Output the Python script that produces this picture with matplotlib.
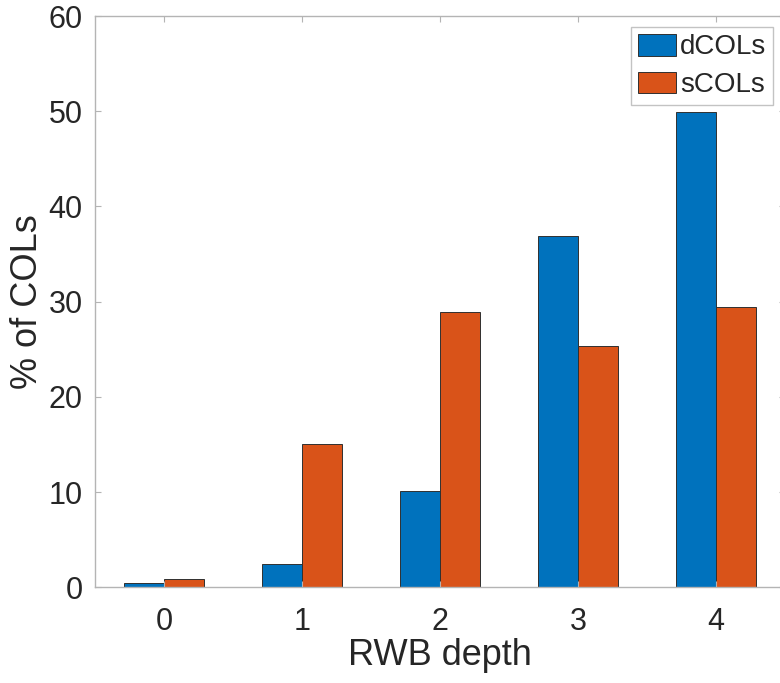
import matplotlib
matplotlib.use("Agg")
import matplotlib.pyplot as plt
import numpy as np

plt.rcParams['font.family'] = ['Liberation Sans', 'DejaVu Sans']

categories = [0, 1, 2, 3, 4]
dcols = [0.4, 2.4, 10.1, 36.9, 49.9]
scols = [0.9, 15.0, 28.9, 25.3, 29.4]
series_names = ["dCOLs", "sCOLs"]
yticks = [0, 10, 20, 30, 40, 50, 60]

blue = "#0072BD"
orange = "#D95319"
grey = "#b4b4b4"
txt = "#262626"

fig = plt.figure(figsize=(7.8, 6.83), dpi=100)
ax = fig.add_axes([95/780, 1 - 587.3/683, 690/780, (587.3 - 16)/683])

x = np.array(categories, dtype=float)
w = 0.29
ax.bar(x - w/2, dcols, width=w, color=blue, edgecolor="#303030", linewidth=0.7, label=series_names[0])
ax.bar(x + w/2, scols, width=w, color=orange, edgecolor="#303030", linewidth=0.7, label=series_names[1])

ax.set_xlim(-0.5, 4.5)
ax.set_ylim(0, 60)
ax.set_xticks(categories)
ax.set_yticks(yticks)
for s in ax.spines.values():
    s.set_color(grey)
    s.set_linewidth(1.0)
ax.tick_params(axis='both', direction='in', length=4, width=0.8, color=grey,
               labelcolor=txt, labelsize=22, top=True, right=True)
ax.tick_params(axis='x', pad=14)
ax.tick_params(axis='y', pad=9)

ax.set_xlabel("RWB depth", fontsize=26, color=txt, va='top')
ax.set_ylabel("% of COLs", fontsize=26, color=txt)
ax.xaxis.set_label_coords(0.5, -0.089)
ax.yaxis.set_label_coords(-0.072, 0.5)

leg = ax.legend(loc='upper right', bbox_to_anchor=((773 - 95)/690, (587.3 - 27)/571.3),
                fontsize=20, frameon=True, fancybox=False, borderpad=0.25,
                handlelength=1.37, handleheight=0.83, handletextpad=0.15, labelspacing=0.4,
                borderaxespad=0)
leg.get_frame().set_edgecolor(grey)
leg.get_frame().set_linewidth(1.0)
for t in leg.get_texts():
    t.set_color(txt)

fig.savefig("out.png", dpi=100)
